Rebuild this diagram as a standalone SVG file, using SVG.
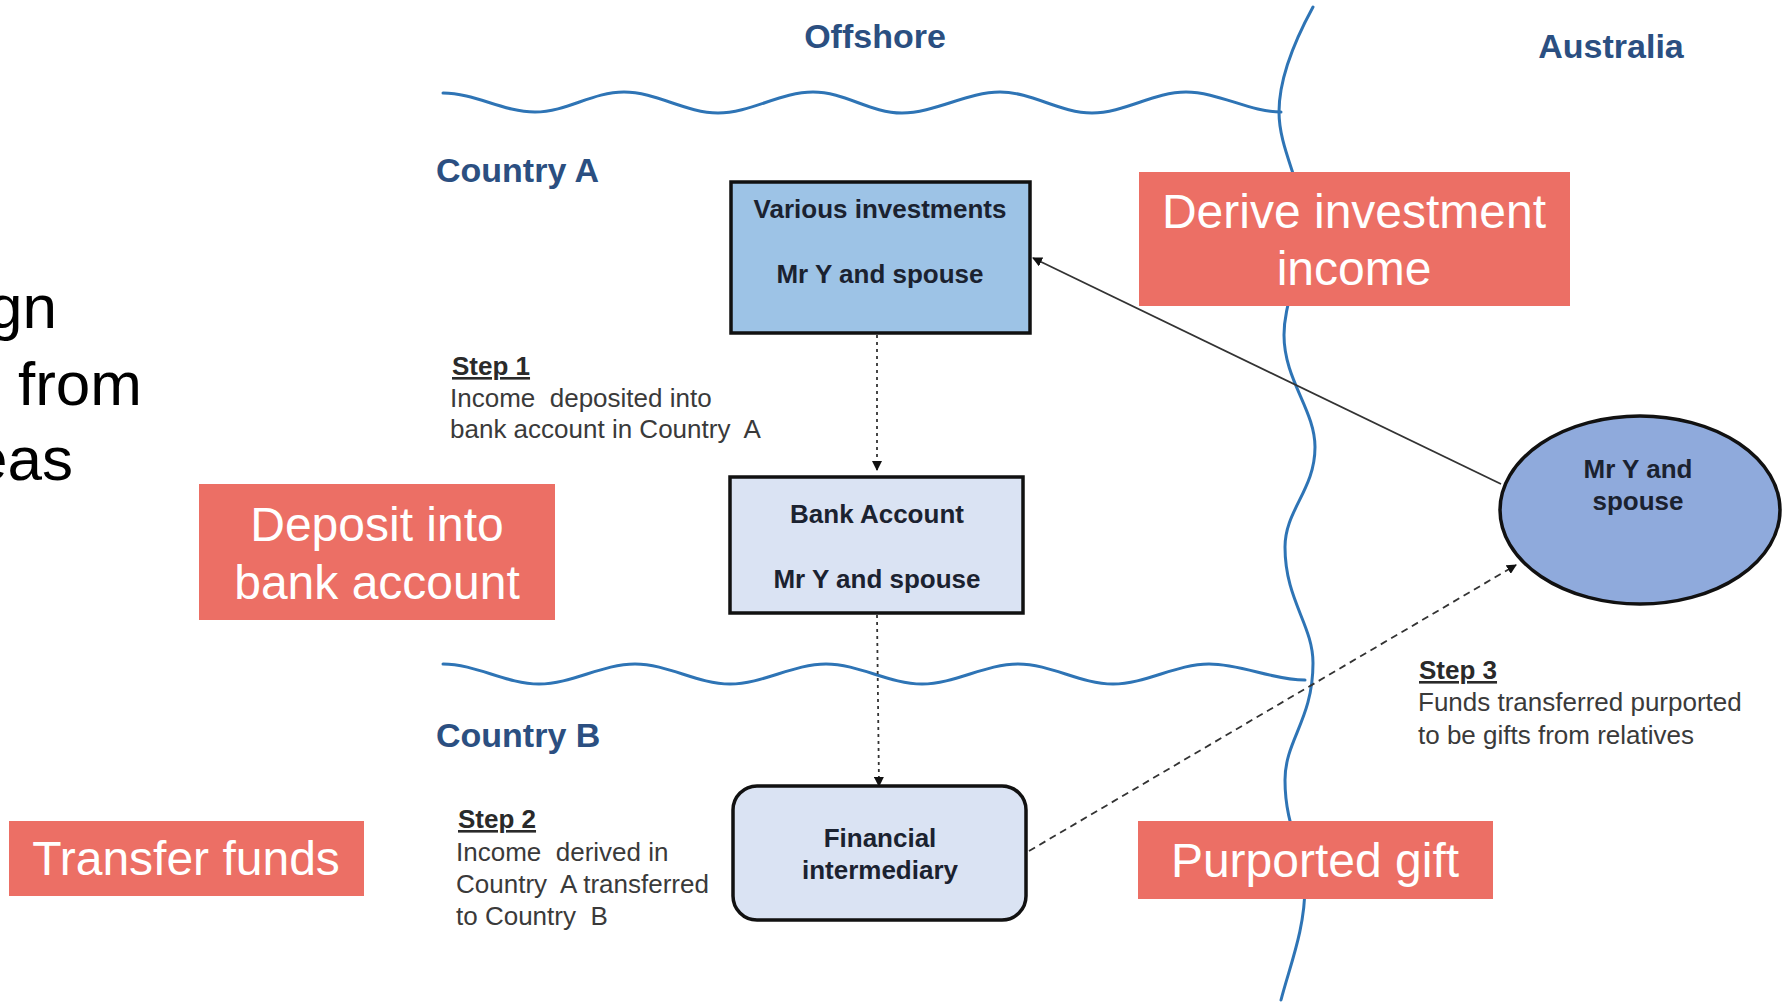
<svg xmlns="http://www.w3.org/2000/svg" width="1786" height="1002" viewBox="0 0 1786 1002">
<defs>
<style>
.wave{fill:none;stroke:#2E74B5;stroke-width:3;stroke-linecap:round}
.region{font-family:"Liberation Sans",Arial,sans-serif;font-weight:bold;font-size:34px;fill:#2B4F81}
.label{fill:#EC6F65}
.ltxt{font-family:"Liberation Sans",Arial,sans-serif;font-size:48px;fill:#FFFFFF;text-anchor:middle}
.node{stroke:#111111;stroke-width:3.5}
.ntxt{font-family:"Liberation Sans",Arial,sans-serif;font-weight:bold;font-size:26px;fill:#1B2230;text-anchor:middle}
.step{font-family:"Liberation Sans",Arial,sans-serif;font-size:26px;fill:#3A3A3A}
.stephead{font-weight:bold;text-decoration:underline;fill:#2A2A2A}
.big{font-family:"Liberation Sans",Arial,sans-serif;font-size:62px;fill:#000000}
.conn{fill:none;stroke:#333333;stroke-width:1.8}
</style>
<marker id="arrow" viewBox="0 0 10 10" refX="9" refY="5" markerWidth="10" markerHeight="10" markerUnits="userSpaceOnUse" orient="auto">
<path d="M0,0 L10,5 L0,10 z" fill="#111111"/>
</marker>
</defs>
<rect width="1786" height="1002" fill="#FFFFFF"/>

<g id="left-text">
<text class="big" x="57" y="328" text-anchor="end">gn</text>
<text class="big" x="18" y="405">from</text>
<text class="big" x="73" y="480" text-anchor="end">eas</text>
</g>

<g id="boundaries">
<path class="wave" d="M443,93 C475,93 503,112 535,112 S592,92 624,92 S686,113 718,113 S781,92 813,92 S870,113 902,113 S968,92 1000,92 S1060,113 1092,113 S1154,92 1186,92 S1250,112 1281,112"/>
<path class="wave" d="M443,664 C476,664 506,684 539,684 S602,664 635,664 S697,684 730,684 S793,664 826,664 S889,684 922,684 S985,664 1018,664 S1080,684 1113,684 S1176,664 1209,664 S1272,680 1305,680"/>
<path class="wave" d="M1313,7 C1295,40 1279,80 1279,112 C1279,150 1303,185 1303,222 C1303,270 1284,300 1284,335 C1284,380 1315,410 1315,447 C1315,490 1285,510 1285,547 C1285,600 1313,625 1313,663 C1313,720 1285,740 1285,780 C1285,830 1305,850 1305,885 C1305,930 1290,965 1281,1000"/>
</g>

<g id="region-labels">
<text class="region" x="875" y="48" text-anchor="middle">Offshore</text>
<text class="region" x="1611" y="58" text-anchor="middle">Australia</text>
<text class="region" x="436" y="182">Country A</text>
<text class="region" x="436" y="747">Country B</text>
</g>

<g id="connectors">
<line class="conn" x1="877" y1="335" x2="877" y2="470" stroke-dasharray="3 4" marker-end="url(#arrow)"/>
<line class="conn" x1="877" y1="615" x2="879" y2="786" stroke-dasharray="3 4" marker-end="url(#arrow)"/>
<line class="conn" x1="1501" y1="484" x2="1033" y2="258" marker-end="url(#arrow)"/>
<line class="conn" x1="1029" y1="851" x2="1516" y2="565" stroke-dasharray="7 5" marker-end="url(#arrow)"/>
</g>

<g id="node-various-investments">
<rect class="node" x="731" y="182" width="299" height="151" fill="#9DC3E6"/>
<text class="ntxt" x="880" y="218">Various investments</text>
<text class="ntxt" x="880" y="283">Mr Y and spouse</text>
</g>

<g id="node-bank-account">
<rect class="node" x="730" y="477" width="293" height="136" fill="#DAE3F3"/>
<text class="ntxt" x="877" y="523">Bank Account</text>
<text class="ntxt" x="877" y="588">Mr Y and spouse</text>
</g>

<g id="node-financial-intermediary">
<rect class="node" x="733" y="786" width="293" height="134" rx="24" ry="24" fill="#DAE3F3"/>
<text class="ntxt" x="880" y="847">Financial</text>
<text class="ntxt" x="880" y="879">intermediary</text>
</g>

<g id="node-mr-y-spouse">
<ellipse class="node" cx="1640" cy="510" rx="140" ry="94" fill="#8FAADC"/>
<text class="ntxt" x="1638" y="478">Mr Y and</text>
<text class="ntxt" x="1638" y="510">spouse</text>
</g>

<g id="step-1">
<text class="step stephead" x="452" y="375">Step 1</text>
<text class="step" x="450" y="407" xml:space="preserve">Income  deposited into</text>
<text class="step" x="450" y="438" xml:space="preserve">bank account in Country  A</text>
</g>

<g id="step-2">
<text class="step stephead" x="458" y="828">Step 2</text>
<text class="step" x="456" y="861" xml:space="preserve">Income  derived in</text>
<text class="step" x="456" y="893" xml:space="preserve">Country  A transferred</text>
<text class="step" x="456" y="925" xml:space="preserve">to Country  B</text>
</g>

<g id="step-3">
<text class="step stephead" x="1419" y="679">Step 3</text>
<text class="step" x="1418" y="711">Funds transferred purported</text>
<text class="step" x="1418" y="744">to be gifts from relatives</text>
</g>

<g id="label-derive">
<rect class="label" x="1139" y="172" width="431" height="134"/>
<text class="ltxt" x="1354" y="228">Derive investment</text>
<text class="ltxt" x="1354" y="285">income</text>
</g>

<g id="label-deposit">
<rect class="label" x="199" y="484" width="356" height="136"/>
<text class="ltxt" x="377" y="541">Deposit into</text>
<text class="ltxt" x="377" y="599">bank account</text>
</g>

<g id="label-transfer">
<rect class="label" x="9" y="821" width="355" height="75"/>
<text class="ltxt" x="186" y="875">Transfer funds</text>
</g>

<g id="label-gift">
<rect class="label" x="1138" y="821" width="355" height="78"/>
<text class="ltxt" x="1315" y="877">Purported gift</text>
</g>
</svg>
